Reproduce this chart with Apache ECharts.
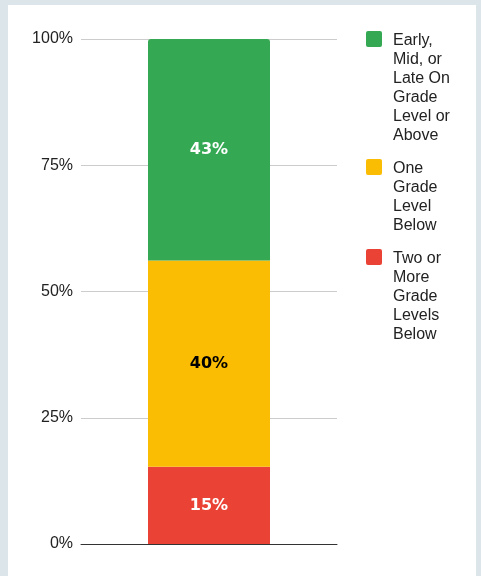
<!DOCTYPE html>
<html>
<head>
<meta charset="utf-8">
<script src="https://cdn.jsdelivr.net/npm/echarts@6/dist/echarts.min.js"></script>
<style>
  html, body { margin: 0; padding: 0; background: #dce5ea; }
  #chart { position: absolute; left: 8px; top: 5px; width: 468px; height: 571px; background: #ffffff; }
</style>
</head>
<body>
<div id="chart"></div>
<script>
// Data
const categories = ['Students'];
const seriesNames = [
  'Two or\nMore\nGrade\nLevels\nBelow',
  'One\nGrade\nLevel\nBelow',
  'Early,\nMid, or\nLate On\nGrade\nLevel or\nAbove'
];
const rawValues = [15, 40, 43];          // shown labels (%)
const seriesColors = ['#ea4335', '#fbbc04', '#34a853'];
const labelColors = ['#ffffff', '#000000', '#ffffff'];
const yTicks = [0, 25, 50, 75, 100];

const total = rawValues.reduce((a, b) => a + b, 0);
const pctValues = rawValues.map(v => v / total * 100);

const chart = echarts.init(document.getElementById('chart'), null, { renderer: 'canvas' });

function iconPath(h) {
  return 'path://M2,0h12q2,0 2,2v12q0,2 -2,2h-12q-2,0 -2,-2v-12q0,-2 2,-2z M0,' + h + 'h16';
}
function lineCount(s) { return s.split('\n').length; }

const LH = 19;
const legendTops = [244, 154, 26]; // for series index 0,1,2
const legends = seriesNames.map((n, i) => {
  const h = lineCount(n) * LH;
  return {
    left: 358,
    top: legendTops[i],
    padding: 0,
    orient: 'vertical',
    itemWidth: 16,
    itemHeight: h,
    symbolKeepAspect: false,
    selectedMode: false,
    data: [{ name: n, icon: iconPath(h) }],
    textStyle: {
      fontFamily: 'Liberation Sans',
      fontSize: 16,
      lineHeight: LH,
      color: '#222222',
      padding: [0, 0, 0, 6]
    }
  };
});

const series = seriesNames.map((n, i) => ({
  name: n,
  type: 'bar',
  stack: 'total',
  barWidth: 122,
  data: [pctValues[i]],
  itemStyle: {
    color: seriesColors[i],
    borderRadius: i === seriesNames.length - 1 ? [3, 3, 0, 0] : 0
  },
  label: {
    show: true,
    position: 'inside',
    formatter: () => rawValues[i] + '%',
    color: labelColors[i],
    fontFamily: 'DejaVu Sans',
    fontWeight: 'bold',
    fontSize: 16
  },
  emphasis: { disabled: true }
}));

chart.setOption({
  animation: false,
  backgroundColor: '#ffffff',
  grid: { left: 73, right: 139, top: 34, bottom: 32, containLabel: false },
  legend: legends,
  xAxis: {
    type: 'category',
    data: categories,
    axisLine: { show: true, lineStyle: { color: '#333333', width: 1 } },
    axisTick: { show: false },
    axisLabel: { show: false }
  },
  yAxis: {
    type: 'value',
    min: yTicks[0],
    max: yTicks[yTicks.length - 1],
    interval: yTicks[1] - yTicks[0],
    axisLine: { show: false },
    axisTick: { show: false },
    splitLine: { lineStyle: { color: '#cccccc', width: 1 } },
    axisLabel: {
      formatter: '{value}%',
      margin: 8,
      color: '#222222',
      fontFamily: 'Liberation Sans',
      fontSize: 16
    }
  },
  series: series
});
</script>
</body>
</html>
